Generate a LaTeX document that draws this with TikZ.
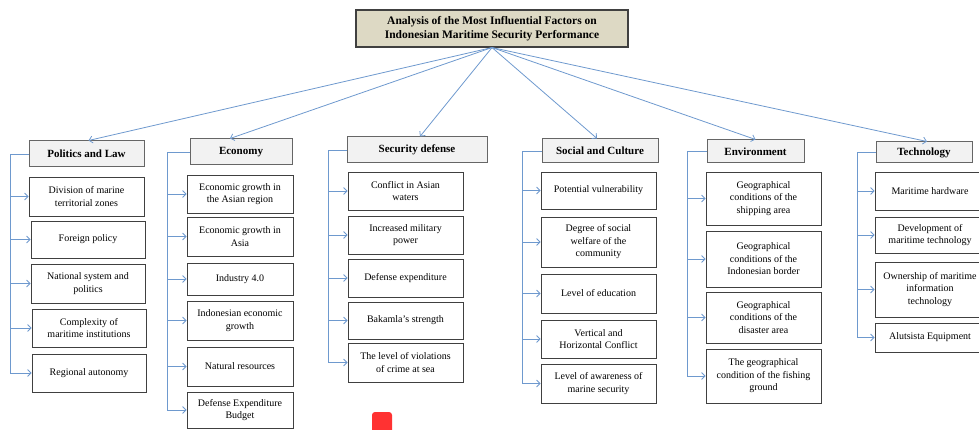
\documentclass[tikz,border=0pt]{standalone}
\usepackage{fontspec}
\setmainfont{Liberation Serif}
\usetikzlibrary{arrows.meta,calc}
\definecolor{lnk}{RGB}{110,153,206}
\definecolor{ttl}{RGB}{221,217,196}
\definecolor{hdf}{RGB}{242,242,242}
\definecolor{bd}{RGB}{64,64,64}
\definecolor{blob}{RGB}{255,50,50}
\newcommand\mkbox[7]{\node[#1, minimum width={(#5-#3)*1pt}, minimum height={(#6-#4)*1pt}] (#2) at ({(#3+#5)/2},{(#4+#6)/2}) {#7};}
\begin{document}
\begin{tikzpicture}[x=1pt,y=-1pt,
 cb/.style={draw=bd, line width=0.8pt, fill=white, inner sep=0pt, align=center, font=\fontsize{10}{12.5}\selectfont},
 hb/.style={draw=black!60, line width=1pt, fill=hdf, inner sep=0pt, align=center, font=\bfseries\fontsize{11}{13}\selectfont},
 tb/.style={draw=bd, line width=1.1pt, fill=ttl, inner sep=0pt, align=center, font=\bfseries\fontsize{11.5}{14}\selectfont},
 conn/.style={draw=lnk, line width=0.8pt},
 arr/.style={conn, -{Straight Barb[length=3.5pt,width=7pt]}}]
\useasboundingbox (0,0) rectangle (979,430);
% title
\mkbox{tb}{t}{356}{10}{628}{47}{Analysis of the Most Influential Factors on\\Indonesian Maritime Security Performance}
% Politics and Law
\mkbox{hb}{h1}{29}{141}{144}{167}{Politics and Law}
\mkbox{cb}{a1}{29}{177}{144}{216}{Division of marine\\territorial zones}
\mkbox{cb}{a2}{31}{221}{145}{258}{Foreign policy}
\mkbox{cb}{a3}{31}{264}{145}{303}{National system and\\politics}
\mkbox{cb}{a4}{32}{309}{146}{347}{Complexity of\\maritime institutions}
\mkbox{cb}{a5}{32}{354}{146}{392}{Regional autonomy}
% Economy
\mkbox{hb}{h2}{190}{139}{292}{165}{Economy}
\mkbox{cb}{b1}{187}{175}{293}{213}{Economic growth in\\the Asian region}
\mkbox{cb}{b2}{187}{217}{293}{256}{Economic growth in\\Asia}
\mkbox{cb}{b3}{187}{263}{293}{295}{Industry 4.0}
\mkbox{cb}{b4}{187}{301}{293}{340}{Indonesian economic\\growth}
\mkbox{cb}{b5}{187}{347}{293}{386}{Natural resources}
\mkbox{cb}{b6}{187}{392}{293}{428}{Defense Expenditure\\Budget}
% Security defense
\mkbox{hb}{h3}{347}{137}{487}{163}{Security defense}
\mkbox{cb}{c1}{348}{172}{463}{210}{Conflict in Asian\\waters}
\mkbox{cb}{c2}{348}{216}{463}{254}{Increased military\\power}
\mkbox{cb}{c3}{348}{259}{463}{297}{Defense expenditure}
\mkbox{cb}{c4}{348}{302}{463}{339}{Bakamla's strength}
\mkbox{cb}{c5}{348}{343}{463}{382}{The level of violations\\of crime at sea}
% Social and Culture
\mkbox{hb}{h4}{542}{139}{658}{163}{Social and Culture}
\mkbox{cb}{d1}{541}{172}{656}{209}{Potential vulnerability}
\mkbox{cb}{d2}{541}{217}{656}{267}{Degree of social\\welfare of the\\community}
\mkbox{cb}{d3}{541}{274}{656}{313}{Level of education}
\mkbox{cb}{d4}{541}{320}{656}{358}{Vertical and\\Horizontal Conflict}
\mkbox{cb}{d5}{541}{364}{656}{403}{Level of awareness of\\marine security}
% Environment
\mkbox{hb}{h5}{707}{140}{804}{163}{Environment}
\mkbox{cb}{e1}{706}{172}{821}{225}{Geographical\\conditions of the\\shipping area}
\mkbox{cb}{e2}{706}{231}{821}{287}{Geographical\\conditions of the\\Indonesian border}
\mkbox{cb}{e3}{706}{292}{821}{343}{Geographical\\conditions of the\\disaster area}
\mkbox{cb}{e4}{706}{349}{821}{403}{The geographical\\condition of the fishing\\ground}
% Technology
\mkbox{hb}{h6}{876}{142}{972}{163}{Technology}
\mkbox{cb}{f1}{875}{172}{985}{210}{Maritime hardware}
\mkbox{cb}{f2}{875}{217}{985}{253}{Development of\\maritime technology}
\mkbox{cb}{f3}{875}{262}{985}{317}{Ownership of maritime\\information\\technology}
\mkbox{cb}{f4}{875}{323}{985}{352}{Alutsista Equipment}
% title connectors
\draw[arr] (t.south) -- ([xshift=2pt]h1.north);
\draw[arr] (t.south) -- ([xshift=-11pt]h2.north);
\draw[arr] (t.south) -- ([xshift=3pt]h3.north);
\draw[arr] (t.south) -- ([xshift=-3pt]h4.north);
\draw[arr] (t.south) -- (h5.north);
\draw[arr] (t.south) -- ([xshift=3pt]h6.north);
% spines
\coordinate (s1) at (10,0);
\coordinate (s2) at (167,0);
\coordinate (s3) at (328,0);
\coordinate (s4) at (522,0);
\coordinate (s5) at (687,0);
\coordinate (s6) at (857,0);
\draw[arr] (h1.west) -- (h1.west -| s1) |- (a5.west);
\foreach \n in {a1,a2,a3,a4} \draw[arr] (s1 |- \n.west) -- (\n.west);
\draw[arr] (h2.west) -- (h2.west -| s2) |- (b6.west);
\foreach \n in {b1,b2,b3,b4,b5} \draw[arr] (s2 |- \n.west) -- (\n.west);
\draw[arr] (h3.west) -- (h3.west -| s3) |- (c5.west);
\foreach \n in {c1,c2,c3,c4} \draw[arr] (s3 |- \n.west) -- (\n.west);
\draw[arr] (h4.west) -- (h4.west -| s4) |- (d5.west);
\foreach \n in {d1,d2,d3,d4} \draw[arr] (s4 |- \n.west) -- (\n.west);
\draw[arr] (h5.west) -- (h5.west -| s5) |- (e4.west);
\foreach \n in {e1,e2,e3} \draw[arr] (s5 |- \n.west) -- (\n.west);
\draw[arr] (h6.west) -- (h6.west -| s6) |- (f4.west);
\foreach \n in {f1,f2,f3} \draw[arr] (s6 |- \n.west) -- (\n.west);
% red mark
\fill[blob, rounded corners=3pt] (372,436) rectangle (392,412);
\end{tikzpicture}
\end{document}
